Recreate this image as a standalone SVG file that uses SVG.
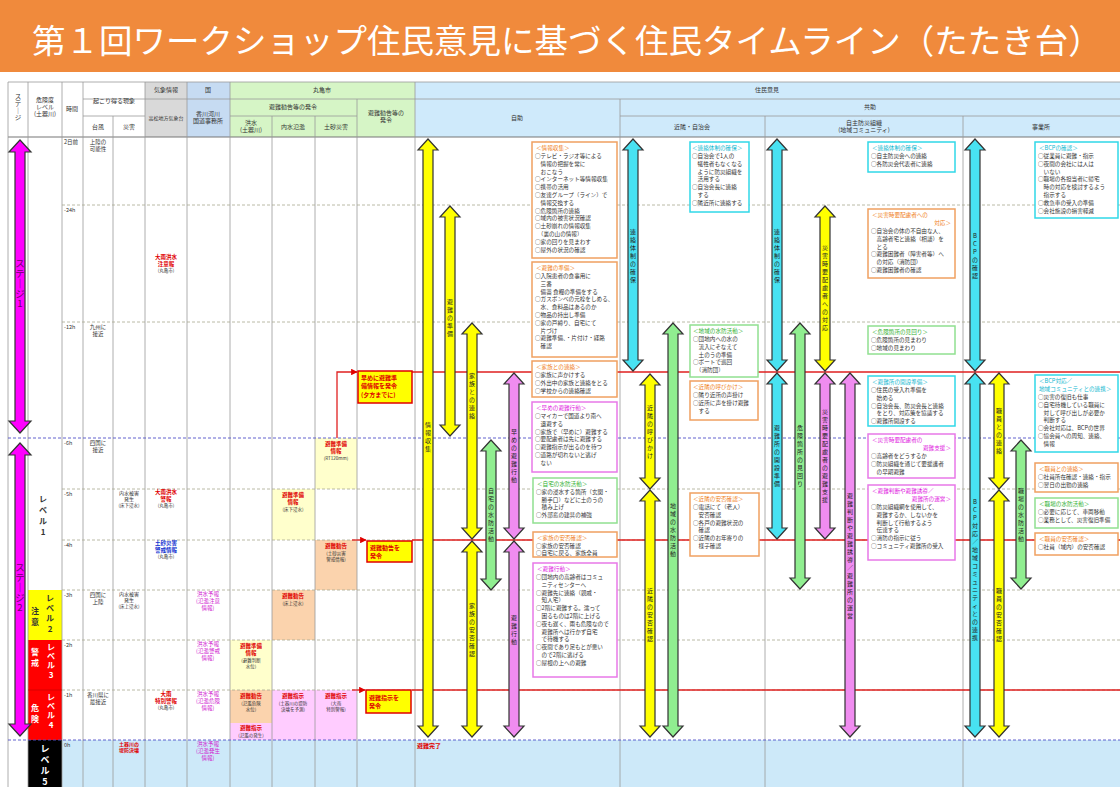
<svg xmlns="http://www.w3.org/2000/svg" width="1120" height="787" viewBox="0 0 1120 787">
<style>
text{font-family:"Noto Sans CJK JP","Noto Sans",sans-serif;fill:#333}
.hd{font-size:6px;text-anchor:middle}
.c5{font-size:5.5px;text-anchor:middle}
.tl{font-size:5.5px}
.rd{fill:#e00000;font-weight:bold}
.bl{fill:#1030d0;font-weight:bold}
.mg{fill:#d020d0}
.bx{font-size:5.6px}
.v{font-size:6px;text-anchor:middle;fill:#222}
.lv{font-size:8px;font-weight:bold;text-anchor:middle}
.st{font-size:9.5px;text-anchor:middle;fill:#6a006a}
.grid{stroke:#999;stroke-width:0.8;fill:none}
.gd{stroke:#a8a890;stroke-width:0.8;stroke-dasharray:3 2;fill:none}
.bd{stroke:#5050c8;stroke-width:0.9;stroke-dasharray:3 2;fill:none}
.red{stroke:#e02020;stroke-width:1.3;fill:none}
.ar{stroke:#333;stroke-width:1.2;stroke-linejoin:miter}
.ay{fill:#ffff00}.ac{fill:#48e2f2}.ag{fill:#90ee90}.ap{fill:#f08cf0}.am{fill:#ff00ff}
.bo{fill:#fff;stroke:#f0a060;stroke-width:1.5}
.bc{fill:#fff;stroke:#30d8e8;stroke-width:1.5}
.bg{fill:#fff;stroke:#90e090;stroke-width:1.5}
.bm{fill:#fff;stroke:#e878e8;stroke-width:1.5}
.to{fill:#f08020}.tc{fill:#10b8d0}.tg{fill:#30b030}.tm{fill:#e020e0}
.cb{fill:#ffff00;stroke:#e00000;stroke-width:1.5}
</style>
<defs>
<marker id="ra" viewBox="0 0 10 10" refX="9" refY="5" markerWidth="5" markerHeight="5" orient="auto"><path d="M0,0 L10,5 L0,10 z" fill="#e00000"/></marker>
</defs>

<g id="title">
<rect x="0" y="0" width="1120" height="72" fill="#f08a3c"/>
<text x="32" y="53" style="font-size:33.5px;fill:#fff">第１回ワークショップ住民意見に基づく住民タイムライン（たたき台）</text>
</g>

<g id="table-bg">
<rect x="8" y="82" width="1112" height="705" fill="#fff"/>
<rect x="145" y="82" width="42" height="55" fill="#d9d9d9"/>
<rect x="187" y="82" width="43" height="55" fill="#c6dbf2"/>
<rect x="230" y="82" width="185" height="55" fill="#d6f5c6"/>
<rect x="415" y="82" width="705" height="55" fill="#cfeafb"/>
<rect x="62" y="740" width="1058" height="47" fill="#cde9f9"/>
<rect x="28" y="590" width="34" height="50" fill="#ffff00"/>
<rect x="28" y="640" width="34" height="100" fill="#ff0000"/>
<rect x="28" y="740" width="34" height="47" fill="#000"/>
<rect x="230" y="640" width="42" height="50" fill="#ffffcc"/>
<rect x="230" y="690" width="42" height="33" fill="#fbd3ad"/>
<rect x="230" y="723" width="42" height="17" fill="#ffccff"/>
<rect x="272" y="489" width="43" height="51" fill="#ffffcc"/>
<rect x="272" y="590" width="43" height="50" fill="#fbd3ad"/>
<rect x="272" y="690" width="43" height="50" fill="#ffccff"/>
<rect x="315" y="438" width="42" height="51" fill="#ffffcc"/>
<rect x="315" y="540" width="42" height="50" fill="#fbd3ad"/>
<rect x="315" y="690" width="42" height="50" fill="#ffccff"/>
</g>

<g id="grid">
<path class="grid" d="M8,82H1120M83,99H1120M83,116H145M230,116H357M620,116H1120"/>
<path d="M8,137H1120" stroke="#777" stroke-width="1.2"/>
<path class="grid" d="M8,82V787M28,82V787M62,82V787M83,82V787M113,116V787M145,82V787M187,82V787M230,82V787M272,116V787M315,116V787M357,99V787M415,82V787M620,99V787M765,116V787M963,116V787"/>
<path d="M28,690H62" stroke="#c00000" stroke-width="0.6"/>
<path class="gd" d="M62,205H1120M62,322H1120M62,489H1120M62,540H1120M62,590H1120M62,640H1120M62,690H1120"/>
<path class="bd" d="M8,438H1120M8,740H1120"/>
<path class="red" d="M412,372H1120M412,540H1120M412,690H1120"/>
</g>

<g id="header">
<text class="hd" style="font-size:6.5px" x="18 18 18 18" y="99 106 113 120">ステ｜ジ</text>
<text class="hd" x="45" y="102">危険度</text><text class="hd" x="45" y="109">レベル</text><text class="hd" x="45" y="116">(土器川)</text>
<text class="hd" x="72" y="111">時間</text>
<text class="hd" x="114" y="103">起こり得る現象</text>
<text class="hd" x="98" y="129">台風</text><text class="hd" x="129" y="129">災害</text>
<text class="hd" x="166" y="92">気象情報</text>
<text class="hd" style="font-size:5px" x="166" y="120">高松地方気象台</text>
<text class="hd" x="208" y="92">国</text>
<text class="hd" x="208" y="116">香川河川</text><text class="hd" x="208" y="123">国道事務所</text>
<text class="hd" x="322" y="92">丸亀市</text>
<text class="hd" x="293" y="109">避難勧告等の発令</text>
<text class="hd" x="386" y="115">避難勧告等の</text><text class="hd" x="386" y="122">発令</text>
<text class="hd" x="251" y="125">洪水</text><text class="hd" x="251" y="132">(土器川)</text>
<text class="hd" x="293" y="129">内水氾濫</text><text class="hd" x="336" y="129">土砂災害</text>
<text class="hd" x="767" y="92">住民意見</text>
<text class="hd" x="517" y="120">自助</text>
<text class="hd" x="870" y="109">共助</text>
<text class="hd" x="692" y="129">近隣・自治会</text>
<text class="hd" x="864" y="125">自主防災組織</text><text class="hd" x="864" y="132">(地域コミュニティ)</text>
<text class="hd" x="1041" y="129">事業所</text>
</g>

<g id="levels">
<text class="lv" x="43 43 43 43" y="502 513 524 535">レベル1</text>
<text class="lv" x="50 50 50 50" y="601 611 621 632">レベル2</text>
<text class="lv" x="35 35" y="614 625">注意</text>
<text class="lv" style="fill:#fff" x="51 51 51 51" y="650 659 668 678">レベル3</text>
<text class="lv" style="fill:#fff" x="35 35" y="655 666">警戒</text>
<text class="lv" style="fill:#fff" x="51 51 51 51" y="700 709 718 728">レベル4</text>
<text class="lv" style="fill:#fff" x="35 35" y="711 722">危険</text>
<text class="lv" style="fill:#fff;font-size:9px" x="45 45 45 45" y="752 763 774 785">レベル5</text>
</g>

<g id="stage-arrows">
<polygon class="ar am" points="20,140 31,152 25,152 25,421 31,421 20,433 9,421 15,421 15,152 9,152"/>
<text class="st" x="20 20 20 20 20" y="267 277 287 297 307">ステ｜ジ1</text>
<polygon class="ar am" points="20,443 31,455 25,455 25,724 31,724 20,736 9,724 15,724 15,455 9,455"/>
<text class="st" x="20 20 20 20 20" y="571 581 591 601 611">ステ｜ジ2</text>
</g>

<g id="time-col">
<text class="tl" x="64" y="144">2日前</text>
<text class="tl" x="64" y="212">-24h</text>
<text class="tl" x="64" y="329">-12h</text>
<text class="tl" x="64" y="445">-6h</text>
<text class="tl" x="64" y="496">-5h</text>
<text class="tl" x="64" y="547">-4h</text>
<text class="tl" x="64" y="597">-3h</text>
<text class="tl" x="64" y="647">-2h</text>
<text class="tl" x="64" y="697">-1h</text>
<text class="tl" x="64" y="747">0h</text>
</g>

<g id="typhoon-col">
<text class="c5" x="98" y="144">上陸の</text><text class="c5" x="98" y="151">可能性</text>
<text class="c5" x="98" y="329">九州に</text><text class="c5" x="98" y="336">接近</text>
<text class="c5" x="98" y="445">四国に</text><text class="c5" x="98" y="452">接近</text>
<text class="c5" x="98" y="597">四国に</text><text class="c5" x="98" y="604">上陸</text>
<text class="c5" x="98" y="697">香川県に</text><text class="c5" x="98" y="704">最接近</text>
</g>

<g id="disaster-col">
<text class="c5" style="font-size:5px" x="129" y="495">内水被害</text><text class="c5" style="font-size:5px" x="129" y="501">発生</text><text class="c5" style="font-size:4.5px" x="129" y="507">(床下浸水)</text>
<text class="c5" style="font-size:5px" x="129" y="596">内水被害</text><text class="c5" style="font-size:5px" x="129" y="602">発生</text><text class="c5" style="font-size:4.5px" x="129" y="608">(床上浸水)</text>
<text class="c5 rd" style="font-size:5px" x="129" y="746">土器川の</text><text class="c5 rd" style="font-size:5px" x="129" y="752">堤防決壊</text>
</g>

<g id="weather-col">
<text class="c5 rd" x="166" y="259">大雨洪水</text><text class="c5 rd" x="166" y="266">注意報</text><text class="c5" style="font-size:4.5px" x="166" y="272">(丸亀市)</text>
<text class="c5 rd" x="166" y="494">大雨洪水</text><text class="c5 rd" x="166" y="501">警報</text><text class="c5" style="font-size:4.5px" x="166" y="507">(丸亀市)</text>
<text class="c5 bl" x="166" y="545">土砂災害</text><text class="c5 bl" x="166" y="552">警戒情報</text><text class="c5" style="font-size:4.5px" x="166" y="558">(丸亀市)</text>
<text class="c5 rd" x="166" y="696">大雨</text><text class="c5 rd" x="166" y="703">特別警報</text><text class="c5" style="font-size:4.5px" x="166" y="709">(丸亀市)</text>
</g>

<g id="national-col">
<text class="c5 mg" x="208" y="596">洪水予報</text><text class="c5 mg" x="208" y="603">(氾濫注意</text><text class="c5 mg" x="208" y="610">情報)</text>
<text class="c5 mg" x="208" y="646">洪水予報</text><text class="c5 mg" x="208" y="653">(氾濫警戒</text><text class="c5 mg" x="208" y="660">情報)</text>
<text class="c5 mg" x="208" y="696">洪水予報</text><text class="c5 mg" x="208" y="703">(氾濫危険</text><text class="c5 mg" x="208" y="710">情報)</text>
<text class="c5 mg" x="208" y="746">洪水予報</text><text class="c5 mg" x="208" y="753">(氾濫発生</text><text class="c5 mg" x="208" y="760">情報)</text>
</g>

<g id="city-col">
<text class="c5 rd" x="251" y="648">避難準備</text><text class="c5 rd" x="251" y="655">情報</text><text class="c5" style="font-size:4.5px" x="251" y="662">(避難判断</text><text class="c5" style="font-size:4.5px" x="251" y="668">水位)</text>
<text class="c5 rd" x="251" y="698">避難勧告</text><text class="c5" style="font-size:4.5px" x="251" y="705">(氾濫危険</text><text class="c5" style="font-size:4.5px" x="251" y="711">水位)</text>
<text class="c5 rd" x="251" y="730">避難指示</text><text class="c5" style="font-size:4.5px" x="251" y="737">(氾濫の発生)</text>
<text class="c5 rd" x="293" y="497">避難準備</text><text class="c5 rd" x="293" y="504">情報</text><text class="c5" style="font-size:4.5px" x="293" y="511">(床下浸水)</text>
<text class="c5 rd" x="293" y="598">避難勧告</text><text class="c5" style="font-size:4.5px" x="293" y="605">(床上浸水)</text>
<text class="c5 rd" x="293" y="698">避難指示</text><text class="c5" style="font-size:4.5px" x="293" y="705">(土器川の堤防</text><text class="c5" style="font-size:4.5px" x="293" y="711">決壊を予測)</text>
<text class="c5 rd" x="336" y="446">避難準備</text><text class="c5 rd" x="336" y="453">情報</text><text class="c5" style="font-size:4.5px" x="336" y="460">(RT120mm)</text>
<text class="c5 rd" x="336" y="548">避難勧告</text><text class="c5" style="font-size:4.5px" x="336" y="555">(土砂災害</text><text class="c5" style="font-size:4.5px" x="336" y="561">警戒情報)</text>
<text class="c5 rd" x="336" y="698">避難指示</text><text class="c5" style="font-size:4.5px" x="336" y="705">(大雨</text><text class="c5" style="font-size:4.5px" x="336" y="711">特別警報)</text>
</g>

<g id="connectors">
<path class="red" d="M337,438V372H357" marker-end="url(#ra)"/>
<path class="red" d="M352,540H366" marker-end="url(#ra)"/>
<path class="red" d="M352,690H365" marker-end="url(#ra)"/>
</g>

<g id="callout-1"><rect class="cb" x="358" y="371" width="54" height="32"/>
<text class="tl rd" style="font-size:6px" x="361" y="380">早めに避難準</text><text class="tl rd" style="font-size:6px" x="361" y="388">備情報を発令</text><text class="tl rd" style="font-size:6px" x="361" y="397">(夕方までに)</text></g>
<g id="callout-2"><rect class="cb" x="367" y="541" width="45" height="21"/>
<text class="tl rd" style="font-size:6px" x="370" y="550">避難勧告を</text><text class="tl rd" style="font-size:6px" x="370" y="558">発令</text></g>
<g id="callout-3"><rect class="cb" x="366" y="690" width="45" height="23"/>
<text class="tl rd" style="font-size:6px" x="369" y="700">避難指示を</text><text class="tl rd" style="font-size:6px" x="369" y="708">発令</text></g>

<text class="tl rd" style="font-size:6px" x="417" y="748">避難完了</text>

<g id="arrows">
<g id="a-jijo-1"><polygon class="ar ay" points="428,139 438,150 433,150 433,726 438,726 428,737 418,726 423,726 423,150 418,150"/><text class="v" x="428 428 428 428" y="427 435 443 451">情報収集</text></g>
<g id="a-jijo-2"><polygon class="ar ay" points="450,206 460,217 455,217 455,425 460,425 450,436 440,425 445,425 445,217 440,217"/><text class="v" x="450 450 450 450 450" y="304 312 320 328 336">避難の準備</text></g>
<g id="a-jijo-3"><polygon class="ar ay" points="472,323 482,334 477,334 477,528 482,528 472,539 462,528 467,528 467,334 462,334"/><text class="v" x="472 472 472 472 472 472" y="378 386 394 402 410 418">家族との連絡</text></g>
<g id="a-jijo-4"><polygon class="ar ay" points="472,541 482,552 477,552 477,726 482,726 472,737 462,726 467,726 467,552 462,552"/><text class="v" x="472 472 472 472 472 472 472" y="608 616 624 632 640 648 656">家族の安否確認</text></g>
<g id="a-jijo-5"><polygon class="ar ag" points="491,440 501,451 496,451 496,579 501,579 491,590 481,579 486,579 486,451 481,451"/><text class="v" x="491 491 491 491 491 491 491" y="493 501 509 517 525 533 541">自宅の水防活動</text></g>
<g id="a-jijo-6"><polygon class="ar ap" points="514,373 524,384 519,384 519,528 524,528 514,539 504,528 509,528 509,384 504,384"/><text class="v" x="514 514 514 514 514 514 514" y="434 442 450 458 466 474 482">早めの避難行動</text></g>
<g id="a-jijo-7"><polygon class="ar ap" points="514,541 524,552 519,552 519,726 524,726 514,737 504,726 509,726 509,552 504,552"/><text class="v" x="514 514 514 514" y="620 628 636 644">避難行動</text></g>

<g id="a-kinrin-1"><polygon class="ar ac" points="633,139 643,150 638,150 638,360 643,360 633,371 623,360 628,360 628,150 623,150"/><text class="v" x="633 633 633 633 633 633 633" y="234 242 250 258 266 274 282">連絡体制の確保</text></g>
<g id="a-kinrin-2"><polygon class="ar ay" points="650,374 660,385 655,385 655,478 660,478 650,489 640,478 645,478 645,385 640,385"/><text class="v" x="650 650 650 650 650 650 650" y="410 418 426 434 442 450 458">近隣の呼びかけ</text></g>
<g id="a-kinrin-3"><polygon class="ar ay" points="650,490 660,501 655,501 655,726 660,726 650,737 640,726 645,726 645,501 640,501"/><text class="v" x="650 650 650 650 650 650 650" y="593 601 609 617 625 633 641">近隣の安否確認</text></g>
<g id="a-kinrin-4"><polygon class="ar ag" points="673,323 683,334 678,334 678,726 683,726 673,737 663,726 668,726 668,334 663,334"/><text class="v" x="673 673 673 673 673 673 673" y="508 516 524 532 540 548 556">地域の水防活動</text></g>

<g id="a-jishu-1"><polygon class="ar ac" points="777,139 787,150 782,150 782,360 787,360 777,371 767,360 772,360 772,150 767,150"/><text class="v" x="777 777 777 777 777 777 777" y="234 242 250 258 266 274 282">連絡体制の確保</text></g>
<g id="a-jishu-2"><polygon class="ar ac" points="777,373 787,384 782,384 782,528 787,528 777,539 767,528 772,528 772,384 767,384"/><text class="v" x="777 777 777 777 777 777 777 777" y="430 438 446 454 462 470 478 486">避難所の開設準備</text></g>
<g id="a-jishu-3"><polygon class="ar ag" points="800,323 810,334 805,334 805,578 810,578 800,589 790,578 795,578 795,334 790,334"/><text class="v" x="800 800 800 800 800 800 800 800" y="430 438 446 454 462 470 478 486">危険箇所の見回り</text></g>
<g id="a-jishu-4"><polygon class="ar ay" points="825,206 835,217 830,217 830,360 835,360 825,371 815,360 820,360 820,217 815,217"/><text class="v" x="825 825 825 825 825 825 825 825 825 825 825" y="250 258 266 274 282 290 298 306 314 322 330">災害時要配慮者への対応</text></g>
<g id="a-jishu-5"><polygon class="ar ap" points="825,373 835,384 830,384 830,528 835,528 825,539 815,528 820,528 820,384 815,384"/><text class="v" x="825 825 825 825 825 825 825 825 825 825 825 825" y="414 422 430 438 446 454 462 470 478 486 494 502">災害時要配慮者の避難支援</text></g>
<g id="a-jishu-6"><polygon class="ar ap" points="850,373 860,384 855,384 855,726 860,726 850,737 840,726 845,726 845,384 840,384"/><text class="v" x="850 850 850 850 850 850 850 850 850 850 850 850 850 850 850 850" y="498 506 514 522 530 538 546 554 562 570 578 586 594 602 610 618">避難判断や避難誘導／避難所の運営</text></g>

<g id="a-jigyo-1"><polygon class="ar ac" points="975,139 985,150 980,150 980,360 985,360 975,371 965,360 970,360 970,150 965,150"/><text class="v" x="975 975 975 975 975 975" y="238 246 254 262 270 278">BCPの確認</text></g>
<g id="a-jigyo-2"><polygon class="ar ac" points="975,373 985,384 980,384 980,726 985,726 975,737 965,726 970,726 970,384 965,384"/><text class="v" x="975 975 975 975 975 975 975 975 975 975 975 975 975 975 975 975 975 975" y="504 512 520 528 536 544 552 560 568 576 584 592 600 608 616 624 632 640">BCP対応／地域コミュニティとの連携</text></g>
<g id="a-jigyo-3"><polygon class="ar ay" points="999,373 1009,384 1004,384 1004,478 1009,478 999,489 989,478 994,478 994,384 989,384"/><text class="v" x="999 999 999 999 999 999" y="413 421 429 437 445 453">職員との連絡</text></g>
<g id="a-jigyo-4"><polygon class="ar ay" points="999,490 1009,501 1004,501 1004,726 1009,726 999,737 989,726 994,726 994,501 989,501"/><text class="v" x="999 999 999 999 999 999 999" y="593 601 609 617 625 633 641">職員の安否確認</text></g>
<g id="a-jigyo-5"><polygon class="ar ag" points="1021,440 1031,451 1026,451 1026,578 1031,578 1021,589 1011,578 1016,578 1016,451 1011,451"/><text class="v" x="1021 1021 1021 1021 1021 1021 1021" y="493 501 509 517 525 533 541">職場の水防活動</text></g>
</g>

<g id="box-jijo-1"><rect class="bo" x="532" y="142" width="85" height="116"/>
<text class="bx to" x="536" y="150">＜情報収集＞</text>
<text class="bx" x="535" y="158"><tspan x="535">○テレビ・ラジオ等による</tspan><tspan x="535" dy="7.8">　情報の把握を常に</tspan><tspan x="535" dy="7.8">　おこなう</tspan><tspan x="535" dy="7.8">○インターネット等情報収集</tspan><tspan x="535" dy="7.8">○携帯の活用</tspan><tspan x="535" dy="7.8">○友達グループ（ライン）で</tspan><tspan x="535" dy="7.8">　情報交換する</tspan><tspan x="535" dy="7.8">○危険箇所の連絡</tspan><tspan x="535" dy="7.8">○域内の被害状況確認</tspan><tspan x="535" dy="7.8">○土砂崩れの情報収集</tspan><tspan x="535" dy="7.8">　（裏の山の情報）</tspan><tspan x="535" dy="7.8">○家の回りを見まわす</tspan><tspan x="535" dy="7.8">○屋外の状況の確認</tspan></text></g>

<g id="box-jijo-2"><rect class="bo" x="532" y="262" width="85" height="95"/>
<text class="bx to" x="536" y="270">＜避難の準備＞</text>
<text class="bx" x="535" y="278"><tspan x="535">○入院患者の食事用に</tspan><tspan x="535" dy="7.8">　三番</tspan><tspan x="535" dy="7.8">　備蓄 食糧の準備をする</tspan><tspan x="535" dy="7.8">○ガスボンベの元栓をしめる、</tspan><tspan x="535" dy="7.8">　水、食料品はあるのか</tspan><tspan x="535" dy="7.8">○物品の持出し準備</tspan><tspan x="535" dy="7.8">○家の戸締り、自宅にて</tspan><tspan x="535" dy="7.8">　片づけ</tspan><tspan x="535" dy="7.8">○避難準備、・片付け・経路</tspan><tspan x="535" dy="7.8">　確認</tspan></text></g>

<g id="box-jijo-3"><rect class="bo" x="532" y="361" width="85" height="36"/>
<text class="bx to" x="536" y="369">＜家族との連絡＞</text>
<text class="bx" x="535" y="377"><tspan x="535">○家族に声かけする</tspan><tspan x="535" dy="7.8">○外出中の家族と連絡をとる</tspan><tspan x="535" dy="7.8">○学校からの連絡確認</tspan></text></g>

<g id="box-jijo-4"><rect class="bm" x="532" y="402" width="85" height="70"/>
<text class="bx tm" x="536" y="410">＜早めの避難行動＞</text>
<text class="bx" x="535" y="418"><tspan x="535">○マイカーで国道より南へ</tspan><tspan x="535" dy="7.8">　退避する</tspan><tspan x="535" dy="7.8">○家族で（早めに）避難する</tspan><tspan x="535" dy="7.8">○要配慮者は先に避難する</tspan><tspan x="535" dy="7.8">○避難指示が出るのを待つ</tspan><tspan x="535" dy="7.8">○道路が切れないと逃げ</tspan><tspan x="535" dy="7.8">　ない</tspan></text></g>

<g id="box-jijo-5"><rect class="bg" x="533" y="478" width="84" height="45"/>
<text class="bx tg" x="537" y="486">＜自宅の水防活動＞</text>
<text class="bx" x="536" y="494"><tspan x="536">○家の浸水する箇所（玄関・</tspan><tspan x="536" dy="7.6">　勝手口）などに土のうの</tspan><tspan x="536" dy="7.6">　積み上げ</tspan><tspan x="536" dy="7.6">○外部窓の建具の補強</tspan></text></g>

<g id="box-jijo-6"><rect class="bo" x="533" y="532" width="84" height="25"/>
<text class="bx to" x="537" y="540">＜家族の安否確認＞</text>
<text class="bx" x="536" y="547.5"><tspan x="536">○家族の安否確認</tspan><tspan x="536" dy="7.2">○自宅に戻る、家族全員</tspan></text></g>

<g id="box-jijo-7"><rect class="bm" x="533" y="563" width="84" height="114"/>
<text class="bx tm" x="537" y="571">＜避難行動＞</text>
<text class="bx" x="536" y="579"><tspan x="536">○団地内の高齢者はコミュ</tspan><tspan x="536" dy="7.8">　ニティセンターへ</tspan><tspan x="536" dy="7.8">○避難先に連絡（親戚・</tspan><tspan x="536" dy="7.8">　知人宅）</tspan><tspan x="536" dy="7.8">○2階に避難する。濡って</tspan><tspan x="536" dy="7.8">　困るものは2階に上げる</tspan><tspan x="536" dy="7.8">○夜も遅く、雨も危険なので</tspan><tspan x="536" dy="7.8">　避難所へは行かず自宅</tspan><tspan x="536" dy="7.8">　で待機する</tspan><tspan x="536" dy="7.8">○夜間であり足もとが悪い</tspan><tspan x="536" dy="7.8">　ので2階に逃げる</tspan><tspan x="536" dy="7.8">○屋根の上への避難</tspan></text></g>

<g id="box-kinrin-1"><rect class="bc" x="690" y="142" width="59" height="70"/>
<text class="bx tc" x="692" y="150">＜連絡体制の確保＞</text>
<text class="bx" x="692" y="158"><tspan x="692">○自治会で1人の</tspan><tspan x="692" dy="7.8">　犠牲者もなくなる</tspan><tspan x="692" dy="7.8">　ように防災組織を</tspan><tspan x="692" dy="7.8">　活用する</tspan><tspan x="692" dy="7.8">○自治会長に連絡</tspan><tspan x="692" dy="7.8">　する</tspan><tspan x="692" dy="7.8">○隣近所に連絡する</tspan></text></g>

<g id="box-kinrin-2"><rect class="bg" x="690" y="325" width="68" height="52"/>
<text class="bx tg" x="693" y="333">＜地域の水防活動＞</text>
<text class="bx" x="693" y="341"><tspan x="693">○団地内への水の</tspan><tspan x="693" dy="7.8">　流入にそなえて</tspan><tspan x="693" dy="7.8">　土のうの準備</tspan><tspan x="693" dy="7.8">○ボートで巡回</tspan><tspan x="693" dy="7.8">　（消防団）</tspan></text></g>

<g id="box-kinrin-3"><rect class="bo" x="690" y="381" width="68" height="39"/>
<text class="bx to" x="693" y="389">＜近隣の呼びかけ＞</text>
<text class="bx" x="693" y="397"><tspan x="693">○隣り近所の声掛け</tspan><tspan x="693" dy="7.8">○近所に声を掛け避難</tspan><tspan x="693" dy="7.8">　する</tspan></text></g>

<g id="box-kinrin-4"><rect class="bo" x="690" y="493" width="69" height="63"/>
<text class="bx to" x="693" y="501">＜近隣の安否確認＞</text>
<text class="bx" x="693" y="509"><tspan x="693">○電話にて（老人）</tspan><tspan x="693" dy="7.8">　安否確認</tspan><tspan x="693" dy="7.8">○各戸の避難状況の</tspan><tspan x="693" dy="7.8">　確認</tspan><tspan x="693" dy="7.8">○近隣のお年寄りの</tspan><tspan x="693" dy="7.8">　様子確認</tspan></text></g>

<g id="box-jishu-1"><rect class="bc" x="868" y="142" width="87" height="30"/>
<text class="bx tc" x="872" y="150">＜連絡体制の確保＞</text>
<text class="bx" x="871" y="158"><tspan x="871">○自主防災会への連絡</tspan><tspan x="871" dy="7.8">○各防災会代表者に連絡</tspan></text></g>

<g id="box-jishu-2"><rect class="bo" x="868" y="209" width="87" height="69"/>
<text class="bx to" x="872" y="217">＜災害時要配慮者への</text>
<text class="bx to" x="951" y="225" text-anchor="end">対応＞</text>
<text class="bx" x="871" y="233"><tspan x="871">○自治会の体の不自由な人、</tspan><tspan x="871" dy="7.8">　高齢者宅と連絡（相談）を</tspan><tspan x="871" dy="7.8">　とる</tspan><tspan x="871" dy="7.8">○避難困難者（障害者等）へ</tspan><tspan x="871" dy="7.8">　の対応（消防団）</tspan><tspan x="871" dy="7.8">○避難困難者の確認</tspan></text></g>

<g id="box-jishu-3"><rect class="bg" x="868" y="326" width="87" height="28"/>
<text class="bx tg" x="872" y="334">＜危険箇所の見回り＞</text>
<text class="bx" x="871" y="342"><tspan x="871">○危険箇所の見まわり</tspan><tspan x="871" dy="7.8">○地域の見まわり</tspan></text></g>

<g id="box-jishu-4"><rect class="bc" x="868" y="376" width="87" height="50"/>
<text class="bx tc" x="872" y="384">＜避難所の開設準備＞</text>
<text class="bx" x="871" y="392"><tspan x="871">○住民の受入れ準備を</tspan><tspan x="871" dy="7.8">　始める</tspan><tspan x="871" dy="7.8">○自治会長、防災会長と連絡</tspan><tspan x="871" dy="7.8">　をとり、対応策を協議する</tspan><tspan x="871" dy="7.8">○避難所開設する</tspan></text></g>

<g id="box-jishu-5"><rect class="bm" x="868" y="434" width="87" height="44"/>
<text class="bx tm" x="872" y="442">＜災害時要配慮者の</text>
<text class="bx tm" x="951" y="450" text-anchor="end">避難支援＞</text>
<text class="bx" x="871" y="458"><tspan x="871">○高齢者をどうするか</tspan><tspan x="871" dy="7.8">○防災組織を通じて要援護者</tspan><tspan x="871" dy="7.8">　の早期避難</tspan></text></g>

<g id="box-jishu-6"><rect class="bm" x="868" y="485" width="87" height="75"/>
<text class="bx tm" x="872" y="493">＜避難判断や避難誘導／</text>
<text class="bx tm" x="951" y="501" text-anchor="end">避難所の運営＞</text>
<text class="bx" x="871" y="509"><tspan x="871">○防災組織網を使用して、</tspan><tspan x="871" dy="7.8">　避難するか、しないかを</tspan><tspan x="871" dy="7.8">　判断して行動するよう</tspan><tspan x="871" dy="7.8">　伝達する</tspan><tspan x="871" dy="7.8">○消防の指示に従う</tspan><tspan x="871" dy="7.8">○コミュニティ避難所の受入</tspan></text></g>

<g id="box-jigyo-1"><rect class="bc" x="1035" y="142" width="83" height="76"/>
<text class="bx tc" x="1039" y="150">＜BCPの確認＞</text>
<text class="bx" x="1038" y="158"><tspan x="1038">○従業員に避難・指示</tspan><tspan x="1038" dy="7.8">○夜間の会社には人は</tspan><tspan x="1038" dy="7.8">　いない</tspan><tspan x="1038" dy="7.8">○職場の各担当者に帰宅</tspan><tspan x="1038" dy="7.8">　時の対応を検討するよう</tspan><tspan x="1038" dy="7.8">　指示する</tspan><tspan x="1038" dy="7.8">○救急車の受入の準備</tspan><tspan x="1038" dy="7.8">○会社施設の損害軽減</tspan></text></g>

<g id="box-jigyo-2"><rect class="bc" x="1035" y="375" width="83" height="77"/>
<text class="bx tc" x="1039" y="383">＜BCP対応／</text>
<text class="bx tc" x="1039" y="391">地域コミュニティとの連携＞</text>
<text class="bx" x="1038" y="399"><tspan x="1038">○災害の復旧も仕事</tspan><tspan x="1038" dy="7.8">○自宅待機している職員に</tspan><tspan x="1038" dy="7.8">　対して呼び出しが必要か</tspan><tspan x="1038" dy="7.8">　判断する</tspan><tspan x="1038" dy="7.8">○会社対応は、BCPの世界</tspan><tspan x="1038" dy="7.8">○協会員への周知、連絡、</tspan><tspan x="1038" dy="7.8">　情報</tspan></text></g>

<g id="box-jigyo-3"><rect class="bo" x="1035" y="463" width="83" height="29"/>
<text class="bx to" x="1039" y="471">＜職員との連絡＞</text>
<text class="bx" x="1038" y="479"><tspan x="1038">○社員所在確認・連絡・指示</tspan><tspan x="1038" dy="7.8">○翌日の出勤の連絡</tspan></text></g>

<g id="box-jigyo-4"><rect class="bg" x="1035" y="498" width="83" height="30"/>
<text class="bx tg" x="1039" y="506">＜職場の水防活動＞</text>
<text class="bx" x="1038" y="514"><tspan x="1038">○必要に応じて、車両移動</tspan><tspan x="1038" dy="7.8">○業務として、災害復旧準備</tspan></text></g>

<g id="box-jigyo-5"><rect class="bo" x="1035" y="533" width="83" height="22"/>
<text class="bx to" x="1039" y="541">＜職員の安否確認＞</text>
<text class="bx" x="1038" y="549"><tspan x="1038">○社員（域内）の安否確認</tspan></text></g>
</svg>
